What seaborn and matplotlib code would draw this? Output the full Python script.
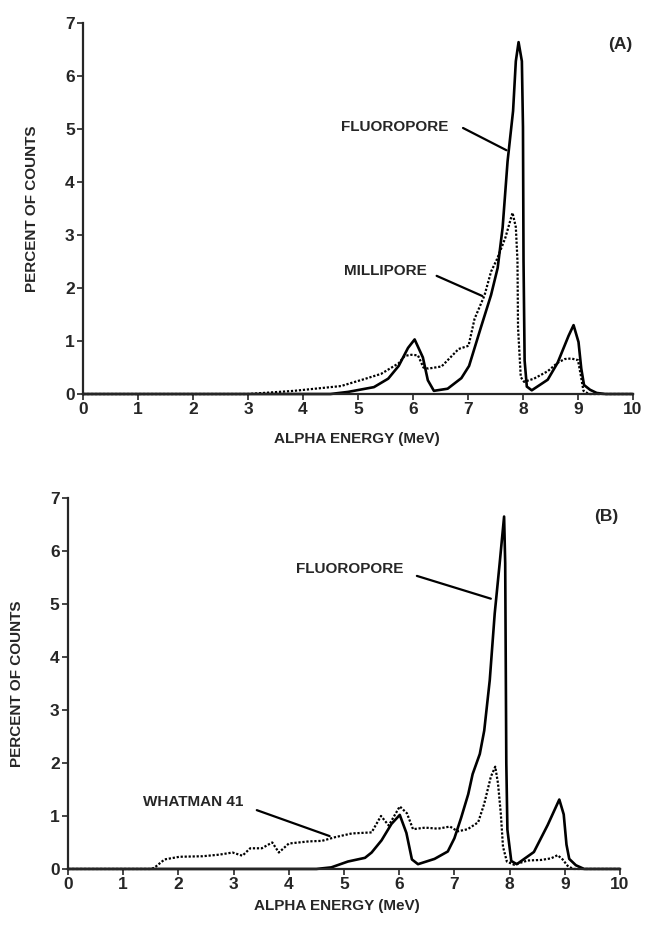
import seaborn as sns
import matplotlib.pyplot as plt

# Panel (A): Fluoropore vs Millipore  (energy in MeV, percent of counts)
fluoro_a_e = [0.0, 4.5, 4.82, 5.29, 5.55, 5.74, 5.91, 6.03, 6.18, 6.27, 6.38, 6.63, 6.88,
              7.02, 7.23, 7.42, 7.54, 7.63, 7.72, 7.82, 7.87, 7.92, 7.98, 8.00, 8.01,
              8.03, 8.07, 8.16, 8.45, 8.63, 8.83, 8.92, 9.01, 9.06, 9.11, 9.22, 9.34, 9.50, 10.0]
fluoro_a_p = [0.0, 0.0, 0.04, 0.13, 0.29, 0.53, 0.87, 1.03, 0.69, 0.26, 0.06, 0.10, 0.30,
              0.53, 1.24, 1.87, 2.38, 3.14, 4.39, 5.34, 6.28, 6.64, 6.28, 5.04, 2.52,
              0.63, 0.14, 0.07, 0.27, 0.59, 1.10, 1.30, 0.98, 0.48, 0.17, 0.08, 0.02, 0.0, 0.0]

milli_a_e = [0.0, 3.0, 3.84, 4.69, 5.11, 5.42, 5.74, 5.85, 5.97, 6.09, 6.19, 6.28, 6.52,
             6.83, 7.01, 7.12, 7.30, 7.42, 7.53, 7.68, 7.81, 7.87, 7.90, 7.91, 7.96,
             8.02, 8.20, 8.45, 8.63, 8.76, 8.88, 9.00, 9.05, 9.10, 9.20, 10.0]
milli_a_p = [0.0, 0.0, 0.06, 0.15, 0.28, 0.38, 0.58, 0.72, 0.74, 0.73, 0.50, 0.48, 0.52,
             0.85, 0.91, 1.42, 1.86, 2.31, 2.55, 2.95, 3.42, 3.15, 2.52, 1.26, 0.32,
             0.23, 0.29, 0.43, 0.59, 0.66, 0.67, 0.64, 0.36, 0.06, 0.0, 0.0]

# Panel (B): Fluoropore vs Whatman 41
fluoro_b_e = [0.0, 4.5, 4.77, 5.07, 5.38, 5.50, 5.68, 5.86, 6.01, 6.13, 6.23, 6.34, 6.64,
              6.88, 7.00, 7.12, 7.25, 7.33, 7.46, 7.54, 7.64, 7.73, 7.82, 7.90, 7.92,
              7.93, 7.94, 7.96, 8.03, 8.13, 8.44, 8.69, 8.90, 8.98, 9.03, 9.08, 9.20, 9.35, 10.0]
fluoro_b_p = [0.0, 0.0, 0.03, 0.14, 0.21, 0.31, 0.54, 0.85, 1.02, 0.68, 0.18, 0.09, 0.19,
              0.33, 0.58, 0.96, 1.41, 1.79, 2.17, 2.61, 3.56, 4.82, 5.77, 6.65, 5.77,
              3.89, 2.00, 0.74, 0.15, 0.09, 0.32, 0.83, 1.31, 1.03, 0.46, 0.19, 0.07, 0.0, 0.0]

whatman_e = [0.0, 1.50, 1.56, 1.75, 2.02, 2.44, 2.74, 2.98, 3.16, 3.30, 3.51, 3.70, 3.82,
             4.00, 4.36, 4.60, 4.84, 5.14, 5.50, 5.67, 5.81, 6.01, 6.14, 6.25, 6.47,
             6.70, 6.92, 7.06, 7.24, 7.43, 7.54, 7.66, 7.74, 7.79, 7.84, 7.88, 7.95,
             8.08, 8.33, 8.57, 8.75, 8.87, 8.96, 9.05, 9.15, 10.0]
whatman_p = [0.0, 0.0, 0.02, 0.18, 0.23, 0.24, 0.27, 0.31, 0.25, 0.39, 0.39, 0.50, 0.31,
             0.48, 0.52, 0.53, 0.60, 0.67, 0.69, 1.00, 0.82, 1.18, 1.05, 0.75, 0.78,
             0.76, 0.80, 0.71, 0.75, 0.88, 1.23, 1.74, 1.93, 1.61, 1.05, 0.42, 0.14,
             0.08, 0.16, 0.17, 0.20, 0.26, 0.18, 0.06, 0.0, 0.0]

x_ticks = list(range(0, 11))
y_ticks = list(range(0, 8))

sns.set_style("ticks")
plt.rcParams['font.family'] = ['Liberation Sans', 'DejaVu Sans']
plt.rcParams['font.weight'] = 'bold'

fig = plt.figure(figsize=(6.47, 9.26), dpi=100)
axA = fig.add_axes([0.1283, 0.5745, 0.850, 0.4006])
axB = fig.add_axes([0.1051, 0.0616, 0.8532, 0.4006])

solid = dict(color="black", linewidth=1.9, clip_on=False, sort=False)
dotted = dict(color="black", linewidth=1.6, linestyle=(0, (1, 0.8)),
              clip_on=False, sort=False)

sns.lineplot(x=fluoro_a_e, y=fluoro_a_p, ax=axA, **solid)
sns.lineplot(x=milli_a_e, y=milli_a_p, ax=axA, **dotted)
sns.lineplot(x=fluoro_b_e, y=fluoro_b_p, ax=axB, **solid)
sns.lineplot(x=whatman_e, y=whatman_p, ax=axB, **dotted)

for ax in (axA, axB):
    ax.set_xlim(0, 10)
    ax.set_ylim(0, 7)
    ax.set_xticks(x_ticks)
    ax.set_yticks(y_ticks)
    sns.despine(ax=ax)
    ax.spines["left"].set_linewidth(1.6)
    ax.spines["bottom"].set_linewidth(1.6)
    ax.tick_params(axis="both", direction="out", length=4, width=1.2,
                   labelsize=12.5, pad=2)
    for lab in ax.get_xticklabels() + ax.get_yticklabels():
        lab.set_fontweight("bold")
    ax.set_xlabel("ALPHA ENERGY (MeV)", fontsize=11, fontweight="bold")
    ax.set_ylabel("PERCENT OF COUNTS", fontsize=11, fontweight="bold")

axA.xaxis.set_label_coords(0.498, -0.102)
axA.yaxis.set_label_coords(-0.080, 0.5)
axB.xaxis.set_label_coords(0.487, -0.081)
axB.yaxis.set_label_coords(-0.080, 0.5)

lbl = dict(fontsize=11, fontweight="bold", ha="right", va="center")
arr = dict(arrowstyle="-", color="black", lw=1.6, shrinkA=0, shrinkB=0)

axA.text(6.64, 5.04, "FLUOROPORE", **lbl)
axA.annotate("", xy=(7.70, 4.6), xytext=(6.91, 5.02), arrowprops=arr)
axA.text(6.25, 2.32, "MILLIPORE", **lbl)
axA.annotate("", xy=(7.26, 1.85), xytext=(6.43, 2.23), arrowprops=arr)

axB.text(6.07, 5.66, "FLUOROPORE", **lbl)
axB.annotate("", xy=(7.66, 5.1), xytext=(6.32, 5.53), arrowprops=arr)
axB.text(3.17, 1.26, "WHATMAN 41", **lbl)
axB.annotate("", xy=(4.74, 0.62), xytext=(3.42, 1.11), arrowprops=arr)

fig.text(620 / 647, 1 - 44 / 926, "(A)", fontsize=12.5, fontweight="bold",
         ha="center", va="center")
fig.text(606 / 647, 1 - 516 / 926, "(B)", fontsize=12.5, fontweight="bold",
         ha="center", va="center")

fig.savefig("out.png", dpi=100)
